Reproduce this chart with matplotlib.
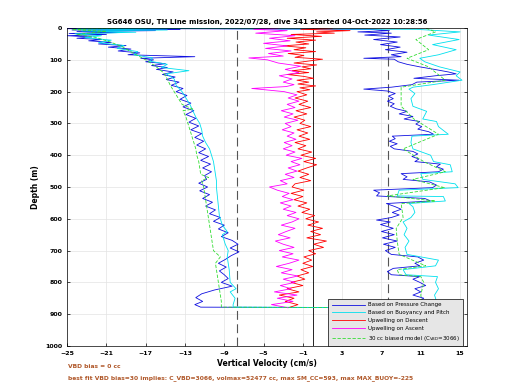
import matplotlib
matplotlib.use('Agg')
import matplotlib.pyplot as plt

# descent, blue (pressure change)
blue_dn_depth = [0, 2, 4, 6, 8, 11, 14, 17, 20, 24, 28, 32, 36, 40, 45, 50, 55, 60, 66, 72, 78, 84, 90, 95,
                 100, 106, 112, 118, 124, 130, 138, 146, 154, 162, 170, 180, 190, 200, 212, 224, 236, 248,
                 260, 272, 284, 296, 308, 320, 332, 344, 356, 368, 380, 392, 404, 416, 428, 440, 452, 464,
                 476, 488, 500, 512, 524, 536, 548, 560, 572, 584, 596, 608, 620, 632, 644, 656, 668, 680,
                 692, 704, 716, 728, 740, 752, 764, 776, 788, 800, 812, 824, 836, 848, 860, 870, 878]
blue_dn_vel = [-12.0, -25.0, -13.5, -24.5, -16.0, -24.0, -19.5, -24.8, -21.0, -25.0, -22.5, -24.0, -21.5,
               -22.8, -20.5, -21.8, -19.0, -20.8, -18.5, -19.8, -17.6, -18.8, -12.0, -17.5, -16.2, -17.0,
               -15.0, -16.4, -14.8, -15.9, -14.2, -15.3, -14.0, -14.9, -13.6, -14.4, -13.2, -13.9, -12.8,
               -13.5, -12.4, -13.2, -12.1, -12.9, -11.9, -12.6, -11.6, -12.4, -11.3, -12.0, -11.1, -11.8,
               -10.9, -11.6, -10.6, -11.4, -10.4, -11.2, -10.3, -11.0, -10.8, -11.6, -10.7, -11.5, -10.5,
               -11.2, -10.2, -10.9, -9.9, -10.5, -9.4, -10.1, -9.0, -9.6, -8.6, -9.3, -8.2, -7.6, -8.4,
               -7.5, -8.3, -8.9, -9.6, -8.8, -9.5, -9.0, -8.6, -9.3, -8.2, -10.0, -11.3, -11.9, -11.2,
               -12.0, -11.4]

# ascent, blue
blue_up_depth = [880, 870, 860, 850, 840, 830, 820, 810, 800, 790, 782, 776, 766, 756, 748, 740, 730, 720,
                 712, 700, 690, 680, 670, 660, 650, 640, 630, 618, 610, 604, 596, 588, 580, 570, 562, 552,
                 544, 536, 528, 518, 510, 502, 494, 484, 476, 468, 458, 452, 444, 436, 428, 420, 412, 404,
                 396, 388, 380, 372, 364, 356, 348, 340, 334, 326, 318, 310, 302, 294, 286, 278, 270, 262,
                 254, 246, 238, 230, 222, 214, 206, 198, 192, 186, 178, 170, 164, 158, 150, 144, 138, 130,
                 122, 114, 106, 98, 95, 90, 84, 76, 68, 60, 52, 44, 36, 28, 22, 16, 12, 8, 4, 1]
blue_up_vel = [10.5, 9.8, 10.8, 11.3, 10.2, 11.0, 10.4, 11.5, 10.9, 10.2, 10.9, 8.0, 7.6, 8.2, 10.9, 10.4,
               11.3, 10.7, 8.0, 7.4, 8.4, 7.2, 8.6, 7.1, 8.3, 7.0, 8.2, 6.9, 7.9, 6.5, 8.0, 8.8, 8.1, 9.0,
               8.4, 7.5, 12.0, 11.4, 6.5, 6.8, 6.2, 12.2, 12.6, 11.9, 9.2, 9.6, 9.0, 12.8, 13.3, 12.6, 13.0,
               10.4, 10.8, 10.1, 10.7, 10.2, 8.3, 7.9, 8.6, 7.8, 8.4, 8.1, 12.3, 11.8, 10.7, 11.1, 10.5,
               10.9, 9.3, 10.2, 8.8, 9.6, 8.5, 7.9, 8.3, 7.6, 8.2, 7.7, 8.4, 7.6, 5.2, 8.0, 10.1, 10.6, 14.9,
               10.3, 12.5, 14.6, 13.8, 12.4, 10.9, 9.6, 8.7, 8.3, 5.2, 9.0, 8.0, 9.6, 7.4, 8.9, 6.9, 8.6,
               6.2, 8.9, 5.3, 8.0, 4.6, 7.8, 5.8, -25.0]

# descent, cyan (buoyancy and pitch)
cyan_dn_depth = [0, 3, 6, 9, 13, 18, 24, 30, 38, 46, 55, 64, 74, 84, 94, 104, 114, 124, 134, 144, 160, 180,
                 200, 220, 240, 260, 280, 300, 320, 340, 360, 380, 400, 420, 440, 460, 480, 500, 530, 560,
                 590, 620, 640, 650, 680, 700, 720, 760, 800, 820, 830, 850, 870, 878]
cyan_dn_vel = [-17.0, -24.0, -14.8, -23.5, -18.0, -24.2, -21.5, -23.2, -20.5, -21.8, -19.2, -19.9, -17.8,
               -18.2, -16.3, -16.6, -14.8, -15.4, -12.6, -14.9, -14.1, -13.9, -13.3, -12.9, -12.5, -12.2,
               -11.9, -11.5, -11.3, -11.2, -10.9, -10.5, -10.3, -10.1, -10.0, -9.9, -9.8, -9.8, -9.7,
               -9.6, -9.5, -9.2, -8.7, -9.2, -8.9, -8.6, -8.7, -8.5, -8.4, -7.8, -8.4, -7.9, -8.1, -8.1]

cyan_up_depth = [880, 860, 840, 820, 800, 782, 776, 760, 748, 730, 712, 690, 670, 650, 630, 610, 596, 580,
                 562, 552, 544, 530, 528, 510, 502, 490, 476, 458, 452, 430, 420, 400, 380, 360, 340, 334,
                 310, 294, 286, 262, 246, 222, 206, 192, 186, 178, 164, 150, 138, 122, 106, 95, 84, 68, 52,
                 36, 22, 12, 4, 0]
cyan_up_vel = [12.0, 12.6, 12.4, 12.8, 12.5, 12.7, 9.5, 9.2, 12.5, 12.8, 9.6, 9.4, 9.8, 9.3, 9.6, 9.2, 10.0,
               10.4, 10.2, 9.8, 13.5, 13.3, 8.6, 8.8, 14.8, 14.5, 11.2, 11.0, 14.2, 14.0, 12.3, 12.0, 10.2,
               10.0, 10.1, 13.8, 12.8, 12.6, 11.2, 11.6, 10.2, 10.0, 10.4, 9.8, 10.2, 12.2, 15.2, 14.6,
               15.0, 12.9, 11.4, 10.9, 12.8, 14.6, 12.2, 14.9, 11.8, 15.0, 10.6, -24.0]

# 30 cc biased model
green_dn_depth = [0, 5, 10, 20, 30, 45, 60, 80, 100, 120, 140, 160, 180, 200, 220, 240, 255, 260, 280, 300,
                  320, 340, 360, 380, 400, 420, 440, 460, 470, 480, 500, 540, 580, 620, 660, 700, 720, 740,
                  780, 820, 860, 878]
green_dn_vel = [-20.0, -24.5, -21.0, -24.0, -22.0, -20.5, -19.3, -18.2, -17.0, -16.0, -15.2, -14.8, -14.5,
                -14.1, -13.7, -13.3, -12.2, -13.2, -12.9, -12.7, -12.5, -12.3, -12.1, -11.9, -11.8, -11.6,
                -11.5, -11.4, -10.6, -11.3, -11.1, -10.9, -10.7, -10.5, -10.3, -10.1, -9.4, -9.9, -9.7,
                -9.5, -9.3, -9.3]
green_up_depth = [880, 840, 800, 782, 776, 760, 748, 712, 670, 630, 596, 552, 544, 528, 502, 476, 452, 420,
                  380, 334, 286, 246, 186, 164, 122, 95, 68, 36, 12, 0]
green_up_vel = [11.2, 11.0, 11.3, 11.0, 8.8, 8.6, 11.5, 8.8, 8.6, 8.5, 9.2, 9.0, 12.5, 7.6, 13.4, 10.2,
                13.5, 11.3, 9.2, 12.8, 10.3, 9.0, 9.0, 13.5, 11.8, 9.6, 11.8, 10.5, 12.5, 11.5]

# upwelling on descent
red_depth = [0, 4, 8, 12, 16, 20, 26, 32, 38, 44, 50, 56, 62, 68, 74, 80, 86, 92, 98, 104, 110, 116, 122,
             128, 134, 140, 146, 152, 158, 164, 170, 176, 182, 188, 194, 200, 210, 220, 230, 240, 250, 260,
             270, 280, 290, 300, 310, 320, 330, 340, 350, 360, 370, 380, 390, 400, 410, 420, 430, 440, 450,
             460, 470, 480, 490, 500, 510, 520, 530, 540, 550, 560, 570, 580, 590, 600, 610, 620, 630, 640,
             650, 660, 670, 680, 690, 700, 710, 720, 730, 740, 750, 760, 770, 780, 790, 800, 810, 820, 830,
             840, 850, 860, 870, 878]
red_vel = [2.0, -1.2, 3.8, 0.4, 2.2, -2.2, 0.9, -2.6, 0.3, -1.7, -0.4, -3.0, -0.7, -1.9, 0.3, -2.5, -0.9,
           -1.8, 1.0, -0.5, -1.9, 0.4, -1.1, -0.2, -2.1, -0.4, -2.6, -0.9, 0.1, -1.6, -0.4, -1.5, 0.3, -1.3,
           -0.3, -1.6, -0.6, -1.8, -0.5, -1.4, -0.2, -1.7, -0.6, -1.9, -0.8, -1.3, -0.2, -1.6, -0.5, -1.4,
           -0.3, -1.8, -0.7, -1.5, -0.1, -1.2, 0.3, -0.9, 0.4, -0.6, -1.5, -0.4, -1.3, -0.2, -1.8, -2.1,
           -0.9, -2.2, -1.0, -1.9, -0.6, -1.5, -0.3, -1.1, 0.2, -0.7, 0.6, -0.5, 1.0, -0.2, 0.8, -0.6, 1.4,
           0.1, 1.1, -0.4, 0.3, -0.9, -0.1, -1.0, 0.0, -1.2, -0.4, -1.6, -0.8, -2.2, -1.0, -2.6, -1.4,
           -3.4, -1.9, -2.8, -1.5, -2.3]

# upwelling on ascent
mag_depth = [880, 870, 860, 850, 840, 830, 820, 810, 800, 790, 780, 770, 760, 750, 740, 730, 720, 710, 700,
             690, 680, 670, 660, 650, 640, 630, 620, 610, 600, 590, 580, 570, 560, 550, 540, 530, 520, 510,
             500, 490, 480, 470, 460, 450, 440, 430, 420, 410, 400, 390, 380, 370, 360, 350, 340, 330, 320,
             310, 300, 290, 280, 270, 260, 250, 240, 230, 220, 210, 200, 190, 184, 178, 170, 160, 150, 140,
             130, 120, 110, 100, 94, 88, 80, 72, 64, 56, 48, 40, 32, 24, 16, 8, 4, 0]
mag_vel = [-2.5, -4.2, -2.0, -3.6, -1.6, -3.9, -2.2, -3.3, -1.8, -3.0, -1.5, -3.2, -2.1, -3.7, -2.4, -1.4,
           -3.1, -2.0, -3.4, -1.9, -3.0, -3.8, -2.3, -3.5, -2.7, -1.8, -3.2, -2.1, -1.4, -2.6, -1.7, -3.0,
           -2.2, -3.3, -2.0, -3.1, -2.4, -3.6, -4.4, -2.6, -3.3, -1.9, -2.8, -1.6, -2.5, -1.3, -2.2, -1.1,
           -2.7, -1.8, -3.0, -2.1, -2.9, -1.7, -2.6, -1.9, -3.1, -2.2, -2.8, -1.5, -2.9, -2.0, -3.2, -1.8,
           -2.6, -1.4, -2.5, -1.6, -2.9, -6.2, -2.7, -1.9, -3.0, -2.1, -3.4, -1.4, -2.8, -1.2, -3.5, -4.6,
           -6.5, -3.0, -4.5, -2.2, -4.8, -2.6, -5.0, -2.3, -4.4, -1.8, -5.8, -2.6, -6.0, -3.5]

x_ticks = [-25, -21, -17, -13, -9, -5, -1, 3, 7, 11, 15]
y_ticks = [0, 100, 200, 300, 400, 500, 600, 700, 800, 900, 1000]
title = 'SG646 OSU, TH Line mission, 2022/07/28, dive 341 started 04-Oct-2022 10:28:56'
note1 = 'VBD bias = 0 cc'
note2 = 'best fit VBD bias=30 implies: C_VBD=3066, volmax=52477 cc, max SM_CC=593, max MAX_BUOY=-225'

fig = plt.figure(figsize=(5.2, 3.9), dpi=100)
ax = fig.add_axes([0.129, 0.113, 0.769, 0.815])

lw = 0.6
ax.plot(blue_dn_vel + blue_up_vel, blue_dn_depth + blue_up_depth, color='#1010e0', lw=lw,
        label='Based on Pressure Change')
ax.plot(cyan_dn_vel + cyan_up_vel, cyan_dn_depth + cyan_up_depth, color='#00e0ee', lw=lw,
        label='Based on Buoyancy and Pitch')
ax.plot(red_vel, red_depth, color='red', lw=lw, label='Upwelling on Descent')
ax.plot(mag_vel, mag_depth, color='magenta', lw=lw, label='Upwelling on Ascent')
ax.plot(green_dn_vel + green_up_vel, green_dn_depth + green_up_depth, color='#33dd33', lw=lw,
        linestyle=(0, (4, 2)), label=r'30 cc biased model (C$_{\mathrm{VBD}}$=3066)')

ax.axvline(-7.7, color='#555555', lw=0.8, linestyle=(0, (8, 4)), zorder=1)
ax.axvline(7.7, color='#555555', lw=0.8, linestyle=(0, (8, 4)), zorder=1)
ax.axvline(0, color='black', lw=0.6, zorder=1)

ax.set_xlim(-25, 15.7)
ax.set_ylim(1000, 0)
ax.set_xticks(x_ticks)
ax.set_yticks(y_ticks)
ax.grid(True, color='#e3e3e3', lw=0.5)
ax.set_axisbelow(True)
ax.tick_params(labelsize=4.5, length=2, width=0.5, direction='in', top=False, right=True)
for lab in ax.get_xticklabels() + ax.get_yticklabels():
    lab.set_fontweight('bold')
for s in ax.spines.values():
    s.set_linewidth(0.5)

ax.set_title(title, fontsize=5, fontweight='bold', pad=3)
ax.set_xlabel('Vertical Velocity (cm/s)', fontsize=5.5, fontweight='bold', labelpad=2)
ax.set_ylabel('Depth (m)', fontsize=5.5, fontweight='bold', labelpad=4)

leg = ax.legend(loc='lower right', bbox_to_anchor=(0.99, 0.0), borderaxespad=0, fontsize=4,
                handlelength=6, fancybox=False, framealpha=1, facecolor='#e6e6e6',
                edgecolor='black', labelspacing=0.5, borderpad=0.6, handletextpad=0.5)
leg.get_frame().set_linewidth(0.5)

fig.text(0.131, 0.057, note1, fontsize=4.3, fontweight='bold', color='#b0582a')
fig.text(0.131, 0.027, note2, fontsize=4.3, fontweight='bold', color='#b0582a')

fig.savefig('out.png', dpi=100)
